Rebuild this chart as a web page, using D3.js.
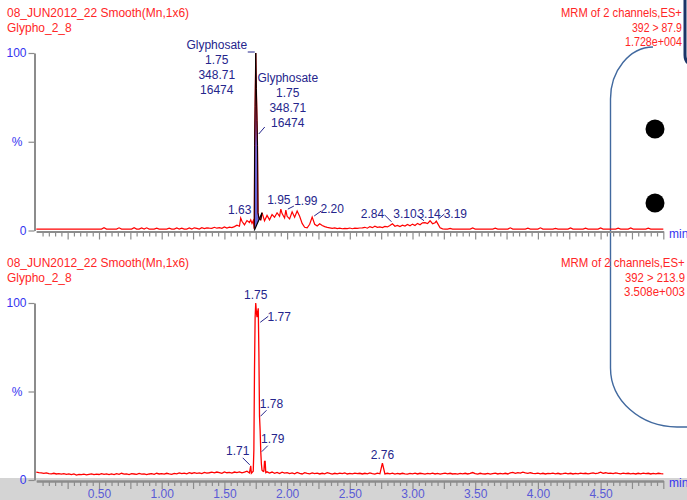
<!DOCTYPE html>
<html><head><meta charset="utf-8">
<script src="https://cdn.jsdelivr.net/npm/d3@7"></script>
<style>
html,body{margin:0;padding:0;background:#fff;overflow:hidden}
svg{display:block;font-family:Arial,"Liberation Sans",sans-serif}
</style></head><body>
<svg id="chart" width="687" height="500"></svg>
<script>
// ---- acquisition grid (minutes) ----
const gridStep = 0.02;
const xTickLabels = [0.5, 1.0, 1.5, 2.0, 2.5, 3.0, 3.5, 4.0, 4.5];

// ---- channel 1 : 392 > 87.9, intensity in % of 1.728e+004 ----
const ch1Grid = [
  0.8,0.8,0.8,0.8,0.8,0.8,0.8,0.8,0.8,0.8,
  0.8,0.8,0.8,0.8,0.8,0.8,0.8,0.8,0.8,0.8,
  0.8,0.8,0.8,0.8,0.8,0.8,0.8,1.6,0.8,0.8,
  0.8,0.8,0.8,1.5,0.8,0.8,0.8,0.8,0.8,1.6,
  0.8,0.8,1.4,0.8,1.5,0.8,0.8,0.8,1.3,0.8,
  0.8,0.8,0.8,1.3,0.8,0.8,1.4,0.8,1.3,0.8,
  0.8,1.4,0.8,1.5,1.2,0.8,1.6,1.1,1.5,1.3,
  1.2,1.8,1.3,1.6,1.2,2.0,1.4,1.9,1.6,2.2,
  3.0,2.4,5.2,3.2,5.6,2.8,4.5,6.0,3.0,5.5,
  7.0,5.5,8.5,6.0,9.0,7.5,10.0,8.0,9.5,7.0,
  8.0,6.5,10.5,7.5,11.0,8.0,4.0,1.8,1.5,3.5,
  7.0,3.5,2.5,3.8,2.8,2.2,1.8,1.5,1.2,1.5,
  1.1,1.3,1.0,1.2,1.1,1.4,1.0,1.3,1.2,1.4,
  1.5,1.8,1.3,2.2,1.6,2.4,1.8,2.0,1.6,2.3,
  2.0,2.8,3.4,2.4,2.9,2.2,3.0,2.5,3.4,2.7,
  3.6,2.8,4.0,3.2,4.3,3.5,3.9,4.6,3.8,4.4,
  4.0,1.5,0.9,0.8,0.8,1.2,0.8,0.8,0.8,0.8,
  0.8,0.8,0.8,0.8,1.4,0.8,0.8,0.8,0.8,0.8,
  0.8,0.8,0.8,1.3,0.8,0.8,0.8,0.8,0.8,1.5,
  0.8,0.8,0.8,0.8,0.8,0.8,1.3,0.8,0.8,0.8,
  0.8,1.5,0.8,0.8,0.8,0.8,0.8,1.2,0.8,0.8,
  0.8,0.8,0.8,1.4,0.8,0.8,0.8,0.8,0.8,1.3,
  0.8,0.8,0.8,0.8,0.8,1.4,0.8,0.8,0.8,0.8,
  0.8,0.8,1.3,0.8,0.8,0.8,0.8,1.4,0.8,0.8,
  0.8,0.8,0.8,0.8,1.3,0.8,0.8,0.8,0.8,0.8,
  0.8
];
const ch1PeakTimes  = [1.70,1.71,1.72,1.73,1.738,1.741,1.745,1.75,1.755,1.76,1.764,1.768,1.775,1.78,1.79,1.80];
const ch1PeakValues = [4.5, 6.0, 4.0, 5.5, 1.0,  48,   70,   100, 80,   62,  48,   10,   7,    6.5, 6.0, 10.0];
const ch1LabelTimes  = [1.63, 1.95, 1.99, 2.20, 2.84, 3.10, 3.14, 3.19];
const ch1LabelValues = [7.0,  12.0, 11.5, 7.6,  3.8,  4.4,  5.5,  5.3];
// integrated peak: start / end of the drawn baseline
const ch1IntegTimes  = [1.738, 1.80];
const ch1IntegValues = [0, 10.0];
const compoundName = "Glyphosate";
const compoundRT = 1.75;
const compoundArea = 348.71;
const compoundHeight = 16474;

// ---- channel 2 : 392 > 213.9, intensity in % of 3.508e+003 ----
const ch2Grid = [
  4.5,4.2,4.0,3.8,4.0,3.6,3.5,3.8,3.4,3.6,
  3.3,3.6,3.2,3.5,3.0,3.4,2.8,3.2,3.0,3.3,
  2.9,3.2,3.5,3.0,3.3,3.1,3.6,3.2,3.5,3.0,
  3.4,3.1,3.6,3.2,3.8,3.3,3.5,3.1,3.6,3.4,
  3.2,3.7,3.3,3.5,3.0,3.4,3.6,3.2,3.8,3.4,
  3.6,3.3,3.8,3.4,3.2,3.7,3.5,4.0,3.6,3.9,
  3.5,4.1,3.7,4.2,3.8,4.0,3.6,4.3,3.9,4.1,
  4.4,4.0,4.5,4.2,3.8,4.6,4.1,4.3,3.9,4.5,
  4.2,4.6,4.0,4.4,5.0,4.2,4.5,3.9,4.3,4.1,
  6.0,11.0,4.8,3.9,4.5,3.8,4.3,3.6,4.4,3.9,
  4.2,3.6,4.0,3.5,4.3,3.8,3.4,4.1,3.7,3.5,
  4.0,3.6,3.9,3.4,3.8,3.5,4.1,3.7,3.3,3.8,
  3.5,3.9,3.6,4.0,3.4,3.7,3.5,3.9,3.6,3.8,
  3.4,3.8,3.5,4.0,3.6,3.3,3.9,3.5,3.7,3.4,
  3.8,3.5,3.9,3.3,3.7,3.4,3.8,3.5,3.3,3.7,
  3.5,3.9,3.4,3.8,3.6,3.3,3.7,3.5,3.9,3.4,
  3.7,3.3,3.6,3.9,3.5,3.8,3.4,3.6,3.3,3.7,
  3.5,3.8,3.4,3.7,4.2,3.6,3.3,3.8,3.5,3.4,
  3.7,3.3,3.6,3.9,3.4,3.7,3.5,3.8,3.4,4.0,
  4.3,3.8,4.2,3.9,4.4,4.0,3.7,4.1,3.8,3.6,
  3.9,3.5,3.8,3.4,3.7,3.6,3.9,3.5,3.8,3.4,
  3.6,3.9,3.5,3.8,3.4,3.7,3.5,3.9,3.6,3.8,
  3.5,3.8,4.0,3.6,3.9,4.4,3.8,4.1,3.7,3.9,
  3.6,4.0,3.7,3.5,3.9,3.6,3.8,3.5,3.7,3.4,
  3.8,3.5,3.9,3.6,3.8,3.4,3.7,3.5,3.8,3.6,
  3.5
];
const ch2PeakTimes  = [1.70,1.71,1.715,1.72,1.73,1.735,1.74,1.745,1.75,1.755,1.76,1.765,1.77,1.775,1.78,1.785,1.79,1.795,1.80,1.81,1.815,1.82,1.825,1.83,1.84];
const ch2PeakValues = [4.0, 8.0, 3.8,  4.2, 5.0, 17,   62,  92,   100, 95,   92,  95,   97,  72,   36,  28,   16,  9,    5.5, 4.8, 5.0,  10.5,10.5, 4.2, 4.6];
const ch2LabelTimes  = [1.71, 1.75, 1.77, 1.78, 1.79, 2.76];
const ch2LabelValues = [8.0,  100,  97,   36,   16,   9.5];

// ---- header texts ----
const sampleTitle = "08_JUN2012_22 Smooth(Mn,1x6)";
const sampleName = "Glypho_2_8";
const ch1Header = ["MRM of 2 channels,ES+", "392 > 87.9", "1.728e+004"];
const ch2Header = ["MRM of 2 channels,ES+", "392 > 213.9", "3.508e+003"];

// ---------------------------------------------------------------
const RED = "#ff0000", TXT_RED = "#ff2626", NAVY = "#25258c",
      AX_BLUE = "#3434f0", TICK_BLUE = "#5a5ad6", AX_GRAY = "#8c8c8c";
const FONT = "Arial, 'Liberation Sans', sans-serif";

const svg = d3.select("#chart");
const x = d3.scaleLinear().domain([0, 5.0]).range([36.3, 663.3]);

function buildTrace(grid, pTimes, pValues, lTimes, lValues) {
  const lo = d3.min(pTimes), hi = d3.max(pTimes);
  const pts = [];
  grid.forEach((v, i) => {
    const t = +(i * gridStep).toFixed(4);
    if (t >= lo - 1e-9 && t <= hi + 1e-9) return;
    pts.push([t, v]);
  });
  pTimes.forEach((t, i) => pts.push([t, pValues[i]]));
  lTimes.forEach((t, i) => {
    const hit = pts.find(p => Math.abs(p[0] - t) < 1e-6);
    if (hit) hit[1] = lValues[i]; else pts.push([t, lValues[i]]);
  });
  return pts.sort((a, b) => a[0] - b[0]);
}

// background band under the lower time axis
svg.append("rect").attr("x", 0).attr("y", 478).attr("width", 687).attr("height", 22).attr("fill", "#d4d4d4");

// callout frame behind the chart texts
const frame = svg.append("g").attr("fill", "none");
frame.append("path")
  .attr("d", "M 653,47 A 43 52 0 0 0 610.5 99 V 368 A 67 59 0 0 0 677 427 H 690")
  .attr("stroke", "#41699f").attr("stroke-width", 1.4);

function panel(cfg) {
  const y = d3.scaleLinear().domain([0, 100]).range([cfg.y0, cfg.y100]);
  const g = svg.append("g");

  // headers
  const hl = g.append("g").attr("font-size", 12).attr("fill", TXT_RED);
  hl.append("text").attr("x", 7).attr("y", cfg.y100 - 36).text(sampleTitle);
  hl.append("text").attr("x", 7).attr("y", cfg.y100 - 21).text(sampleName);
  // right-hand header lines, narrowed horizontally so they end inside the frame
  const hr = g.append("g").attr("font-size", 12).attr("fill", TXT_RED);
  cfg.header.forEach((s, i) => {
    const x0 = cfg.headerX[i], y0 = cfg.y100 - 36 + i * 14.5;
    const t = hr.append("text").attr("x", 0).attr("y", 0).text(s);
    const w = t.node().getComputedTextLength();
    const sx = Math.min(1, (cfg.headerEnd - x0) / w);
    t.attr("transform", `translate(${x0},${y0}) scale(${sx},1)`);
  });

  // y axis
  const yAx = g.append("g").attr("transform", `translate(34.5,0)`);
  yAx.call(d3.axisLeft(y).tickValues(d3.range(10, 100, 10).filter(v => v !== 50)).tickSize(3).tickFormat(""));
  yAx.call(d3.axisLeft(y).tickValues([0, 50, 100]).tickSize(6).tickSizeOuter(0).tickPadding(2)
      .tickFormat(d => d === 50 ? "%" : d));
  yAx.selectAll("path.domain").attr("stroke", AX_GRAY).attr("stroke-width", 2);
  yAx.selectAll(".tick line").attr("stroke", AX_GRAY).attr("stroke-width", 1.2);
  yAx.selectAll("text").attr("fill", AX_BLUE).attr("font-size", 12).attr("font-family", FONT);
  yAx.selectAll(".tick").filter(d => d === 50).select("text").attr("dx", -4);

  // x axis
  const axY = cfg.y0 + 1;
  const xAx = g.append("g").attr("transform", `translate(0,${axY})`);
  const minor = d3.range(1, 101).map(i => +(i * 0.05).toFixed(2)).filter(v => Math.round(v * 100) % 25 !== 0);
  const major = d3.range(1, 21).map(i => i * 0.25);
  xAx.call(d3.axisBottom(x).tickValues(minor).tickSize(5).tickSizeOuter(0).tickFormat(""));
  const xMaj = g.append("g").attr("transform", `translate(0,${axY})`);
  xMaj.call(d3.axisBottom(x).tickValues(major).tickSize(8).tickSizeOuter(0).tickFormat(""));
  [xAx, xMaj].forEach(a => {
    a.selectAll("path.domain").attr("stroke", AX_GRAY).attr("stroke-width", 2);
    a.selectAll(".tick line").attr("stroke", AX_GRAY).attr("stroke-width", 1.2);
  });
  if (cfg.labels) {
    const xl = g.append("g").attr("transform", `translate(0,${axY})`);
    xl.call(d3.axisBottom(x).tickValues(xTickLabels).tickSize(0).tickPadding(8).tickFormat(d3.format(".2f")));
    xl.select("path.domain").remove();
    xl.selectAll("text").attr("fill", TICK_BLUE).attr("font-size", 12).attr("font-family", FONT);
  }
  g.append("text").attr("x", 669).attr("y", axY + 6).attr("font-size", 12).attr("fill", AX_BLUE).text("min");

  const line = d3.line().x(d => x(d[0])).y(d => y(d[1]));

  // integrated area (fill + outline) for the quantified peak
  if (cfg.integ) {
    const [t0, t1] = cfg.integ.times, [v0, v1] = cfg.integ.values;
    const seg = cfg.trace.filter(p => p[0] >= t0 - 1e-9 && p[0] <= t1 + 1e-9);
    const base = t => v0 + (v1 - v0) * (t - t0) / (t1 - t0);
    const area = d3.area().x(d => x(d[0])).y0(d => y(base(d[0]))).y1(d => y(d[1]));
    g.append("path").attr("d", area(seg)).attr("fill", "#6565d8");
    g.append("path").attr("d", line(cfg.trace)).attr("fill", "none").attr("stroke", RED).attr("stroke-width", 1.2);
    g.append("path").attr("d", line(seg)).attr("fill", "none").attr("stroke", "#000").attr("stroke-width", 1.0);
    g.append("path").attr("d", line([[t0, v0], [t1, v1]])).attr("fill", "none").attr("stroke", "#000").attr("stroke-width", 1.2);
  } else {
    g.append("path").attr("d", line(cfg.trace)).attr("fill", "none").attr("stroke", RED).attr("stroke-width", 1.3);
  }

  // peak annotations
  const ann = g.append("g").attr("font-size", 12).attr("fill", NAVY).attr("text-anchor", "middle");
  cfg.labelLayout.forEach(L => {
    const i = cfg.lTimes.indexOf(L.t);
    const px = x(L.t), py = y(cfg.lValues[i]);
    ann.append("text").attr("x", px + L.dx).attr("y", py + L.dy).text(L.t.toFixed(2));
    if (L.lead) {
      ann.append("line").attr("x1", px + L.lead[0]).attr("y1", py + L.lead[1])
        .attr("x2", px + L.lead[2]).attr("y2", py + L.lead[3]).attr("stroke", NAVY).attr("stroke-width", 1);
    }
  });
  if (cfg.compoundBlocks) {
    const px = x(compoundRT), py = y(100);
    const lines = [compoundName, compoundRT.toFixed(2), compoundArea.toFixed(2), String(compoundHeight)];
    cfg.compoundBlocks.forEach(B => {
      lines.forEach((s, k) => ann.append("text").attr("x", px + B.dx).attr("y", py + B.dy + k * 15).text(s));
      ann.append("line").attr("x1", px + B.lead[0]).attr("y1", py + B.lead[1])
        .attr("x2", px + B.lead[2]).attr("y2", py + B.lead[3]).attr("stroke", NAVY).attr("stroke-width", 1);
    });
  }
}

const ch1Trace = buildTrace(ch1Grid, ch1PeakTimes, ch1PeakValues, ch1LabelTimes, ch1LabelValues);
const ch2Trace = buildTrace(ch2Grid, ch2PeakTimes, ch2PeakValues, ch2LabelTimes, ch2LabelValues);

panel({
  y0: 230.5, y100: 53, header: ch1Header, headerX: [561, 632, 625], headerEnd: 682, trace: ch1Trace,
  lTimes: ch1LabelTimes, lValues: ch1LabelValues,
  integ: { times: ch1IntegTimes, values: ch1IntegValues },
  labelLayout: [
    { t: 1.63, dx: -1, dy: -4 },
    { t: 1.95, dx: -2, dy: -5 },
    { t: 1.99, dx: 20, dy: -5, lead: [8, -4, 2, -1] },
    { t: 2.20, dx: 20, dy: -4, lead: [9, -6, 2, -1] },
    { t: 2.84, dx: -20, dy: -6, lead: [-8, -9, -1, -2] },
    { t: 3.10, dx: -20, dy: -5, lead: [-8, -7, -1, -2] },
    { t: 3.14, dx: -1, dy: -3 },
    { t: 3.19, dx: 19, dy: -3, lead: [8, -7, 2, -2] }
  ],
  compoundBlocks: [
    { dx: -39, dy: -4, lead: [-8, -1, -1, -1] },
    { dx: 32, dy: 29, lead: [9, 74, 3, 81] }
  ]
});

panel({
  y0: 480, y100: 303, header: ch2Header, headerX: [561, 625, 624], headerEnd: 685, trace: ch2Trace, labels: true,
  lTimes: ch2LabelTimes, lValues: ch2LabelValues,
  labelLayout: [
    { t: 1.75, dx: 0, dy: -4 },
    { t: 1.77, dx: 21, dy: 13, lead: [10, 8, 2, 14] },
    { t: 1.78, dx: 12, dy: -8, lead: [7, -6, 1, 0] },
    { t: 1.79, dx: 12, dy: -9, lead: [7, -6, 1, 0] },
    { t: 1.71, dx: -13, dy: -11, lead: [-8, -8, -1, -1] },
    { t: 2.76, dx: 0, dy: -4 }
  ]
});

// markers and dark frame edge on the right
const deco = svg.append("g").attr("fill", "none");
deco.append("path")
  .attr("d", "M 685,0 V 55 Q 685,64 693,64")
  .attr("stroke", "#1b3567").attr("stroke-width", 3);
deco.selectAll("circle").data([129, 203]).join("circle")
  .attr("cx", 655).attr("cy", d => d).attr("r", 9.5).attr("fill", "#000");
</script>
</body></html>
